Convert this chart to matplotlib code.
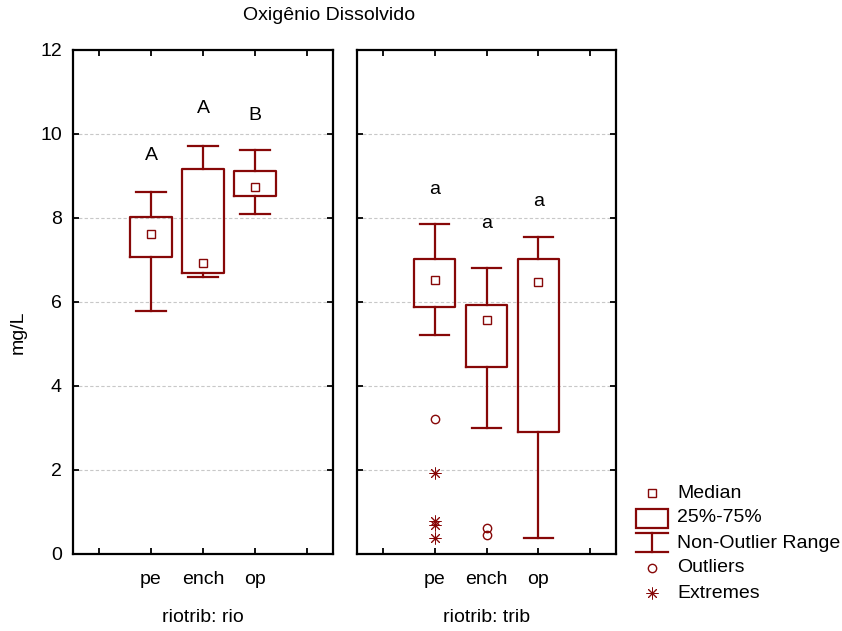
import matplotlib
matplotlib.use("Agg")
import matplotlib.pyplot as plt
from matplotlib.patches import Rectangle
from matplotlib import font_manager

# ---- data -------------------------------------------------------------
categories = ["pe", "ench", "op"]
groups = ["rio", "trib"]

# river sites
rio_whislo = [5.79, 6.60, 8.10]
rio_q1 = [7.06, 6.70, 8.52]
rio_med = [7.63, 6.92, 8.73]
rio_q3 = [8.02, 9.16, 9.13]
rio_whishi = [8.61, 9.71, 9.62]
rio_outliers = [[], [], []]
rio_extremes = [[], [], []]
rio_letters = ["A", "A", "B"]
rio_letter_y = [9.50, 10.60, 10.43]

# tributary sites
trib_whislo = [5.22, 3.01, 0.39]
trib_q1 = [5.88, 4.45, 2.90]
trib_med = [6.52, 5.56, 6.48]
trib_q3 = [7.02, 5.94, 7.02]
trib_whishi = [7.86, 6.80, 7.55]
trib_outliers = [[3.21], [0.63, 0.46], []]
trib_extremes = [[1.92, 0.79, 0.70, 0.38], [], []]
trib_letters = ["a", "a", "a"]
trib_letter_y = [8.68, 7.87, 8.39]

y_ticks = [0, 2, 4, 6, 8, 10, 12]

# ---- style ------------------------------------------------------------
RED = "#870808"
BLACK = "#000000"
GRID = "#c8c8c8"
FS = 14
STAR = (8, 2, 0)  # eight-spoke asterisk

avail = {f.name for f in font_manager.fontManager.ttflist}
base_font = "Liberation Sans" if "Liberation Sans" in avail else "DejaVu Sans"
plt.rcParams["font.family"] = [base_font, "DejaVu Sans"]
plt.rcParams["font.size"] = FS

W, H = 842, 631
fig = plt.figure(figsize=(W / 100, H / 100), dpi=100)


def px_axes(x0, y0, x1, y1):
    return fig.add_axes([x0 / W, 1 - y1 / H, (x1 - x0) / W, (y1 - y0) / H])


ax_rio = px_axes(73, 50, 333, 554)
ax_trib = px_axes(357, 50, 616, 554)

panels = [
    (ax_rio, rio_whislo, rio_q1, rio_med, rio_q3, rio_whishi,
     rio_outliers, rio_extremes, rio_letters, rio_letter_y, "riotrib: rio"),
    (ax_trib, trib_whislo, trib_q1, trib_med, trib_q3, trib_whishi,
     trib_outliers, trib_extremes, trib_letters, trib_letter_y, "riotrib: trib"),
]

positions = [1, 2, 3]

for (ax, wlo, q1, med, q3, whi, outl, extr, letters, ly, xlab) in panels:
    stats = []
    for i in range(len(categories)):
        stats.append(dict(whislo=wlo[i], q1=q1[i], med=med[i], q3=q3[i],
                          whishi=whi[i], fliers=[], label=categories[i]))
    ax.bxp(stats, positions=positions, widths=0.8, capwidths=0.56,
           showfliers=False, patch_artist=False,
           boxprops=dict(color=RED, linewidth=1.6),
           whiskerprops=dict(color=RED, linewidth=1.6),
           capprops=dict(color=RED, linewidth=1.6),
           medianprops=dict(visible=False), zorder=3)
    # medians as small squares
    ax.plot(positions, med, linestyle="none", marker="s", markersize=6,
            markerfacecolor="white", markeredgecolor=RED,
            markeredgewidth=1.0, zorder=4)
    # outliers and extremes
    for p, vals in zip(positions, outl):
        if vals:
            ax.plot([p] * len(vals), vals, linestyle="none", marker="o",
                    markersize=6, markerfacecolor="none",
                    markeredgecolor=RED, markeredgewidth=1.0, zorder=4)
    for p, vals in zip(positions, extr):
        if vals:
            ax.plot([p] * len(vals), vals, linestyle="none",
                    marker=STAR, markersize=8.5,
                    color=RED, markeredgewidth=0.7, zorder=4)
    # group letters
    for p, t, y in zip(positions, letters, ly):
        ax.text(p, y, t, ha="center", va="center", fontsize=FS, color=BLACK)

    ax.set_xlim(-0.5, 4.5)
    ax.set_ylim(0, 12)
    ax.set_xticks([0, 1, 2, 3, 4])
    ax.set_xticklabels([""] + categories + [""])
    ax.set_yticks(y_ticks)
    ax.tick_params(axis="both", direction="in", length=4, width=1.3,
                   top=True, right=True, colors=BLACK, labelsize=FS)
    ax.tick_params(axis="x", pad=12)
    ax.tick_params(axis="y", pad=8)
    for s in ax.spines.values():
        s.set_linewidth(1.6)
        s.set_color(BLACK)
    for yv in y_ticks[1:-1]:
        ax.axhline(yv, color=GRID, linewidth=0.8, linestyle=(0, (3, 2)), zorder=1)
    # panel caption under the category labels
    bb = ax.get_position()
    fig.text((bb.x0 + bb.x1) / 2, 1 - 618 / H, xlab, ha="center",
             va="center", fontsize=FS)

ax_trib.set_yticklabels([])

# title and axis label
fig.text(329 / W, 1 - 16 / H, "Oxigênio Dissolvido", ha="center", va="center",
         fontsize=FS)
fig.text(18 / W, 1 - 332 / H, "mg/L", ha="center", va="center",
         rotation=90, fontsize=FS)

# ---- legend -----------------------------------------------------------
lax = fig.add_axes([0, 0, 1, 1])
lax.set_xlim(0, W)
lax.set_ylim(H, 0)
lax.axis("off")

cx = 652
tx = 677
rows_y = [493, 518, 543, 568, 593]
labels = ["Median", "25%-75%", "Non-Outlier Range", "Outliers", "Extremes"]

lax.plot([cx], [rows_y[0]], marker="s", markersize=6, markerfacecolor="white",
         markeredgecolor=RED, markeredgewidth=1.0, linestyle="none")
lax.add_patch(Rectangle((636, 509), 32, 19, fill=False, edgecolor=RED, linewidth=1.6))
lax.plot([636, 668], [533, 533], color=RED, linewidth=1.6)
lax.plot([636, 668], [552, 552], color=RED, linewidth=1.6)
lax.plot([cx, cx], [533, 552], color=RED, linewidth=1.6)
lax.plot([cx], [rows_y[3]], marker="o", markersize=6, markerfacecolor="none",
         markeredgecolor=RED, markeredgewidth=1.0, linestyle="none")
lax.plot([cx], [rows_y[4]], marker=STAR, markersize=8.5, color=RED,
         markeredgewidth=0.7, linestyle="none")
for y, t in zip(rows_y, labels):
    lax.text(tx, y, t, ha="left", va="center", fontsize=FS, color=BLACK)

fig.savefig("out.png", dpi=100)
